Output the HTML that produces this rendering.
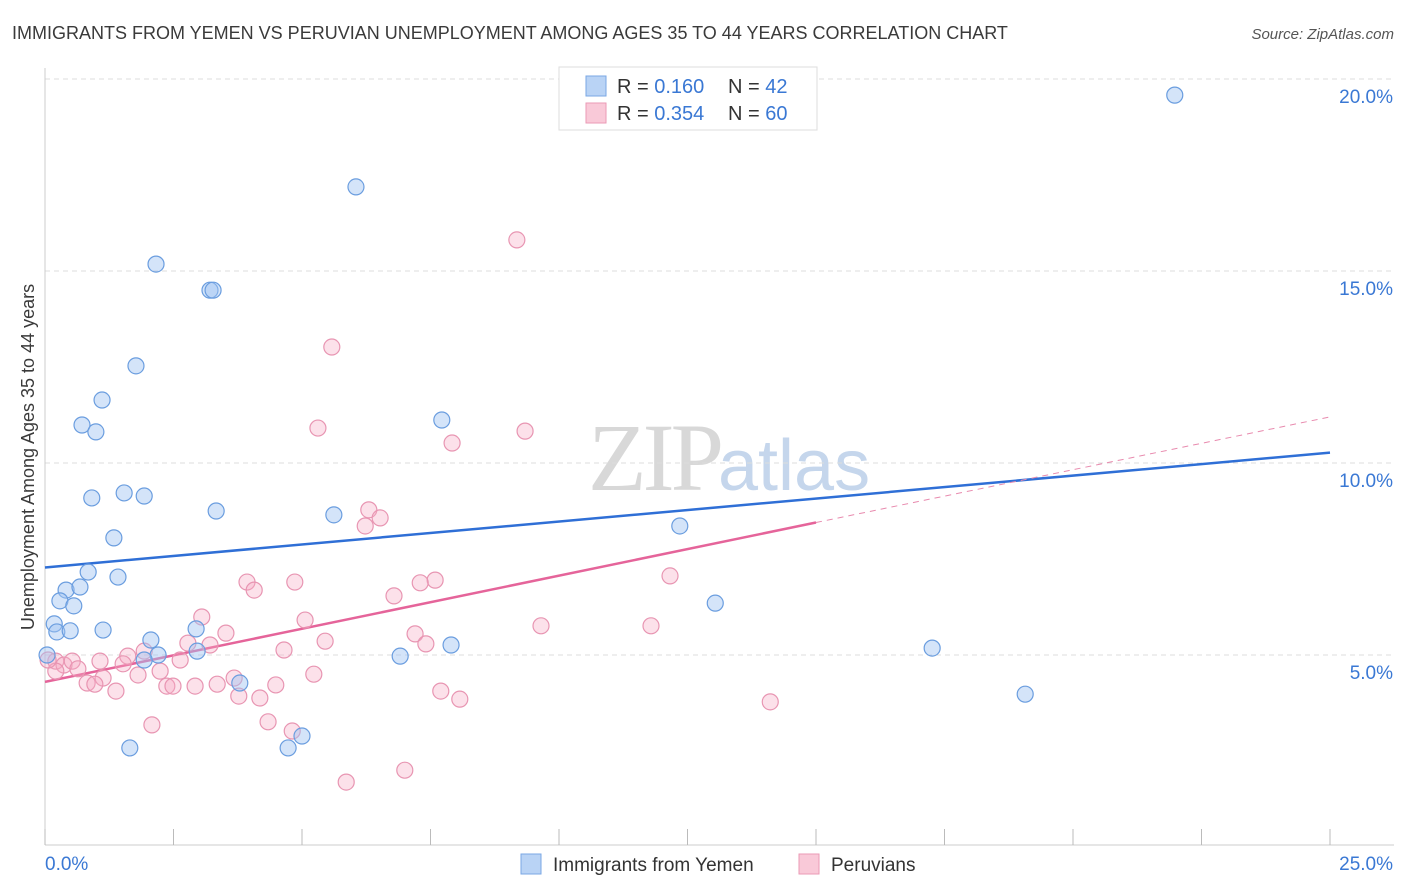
<!DOCTYPE html>
<html><head><meta charset="utf-8"><style>
body{margin:0;background:#fff;font-family:"Liberation Sans",sans-serif;}
svg{display:block}
</style></head><body>
<svg id="chart" width="1406" height="892" xmlns="http://www.w3.org/2000/svg">
<text x="12" y="39" font-size="18" fill="#3a3a3a">IMMIGRANTS FROM YEMEN VS PERUVIAN UNEMPLOYMENT AMONG AGES 35 TO 44 YEARS CORRELATION CHART</text>
<text x="1394" y="39" font-size="15" fill="#555" text-anchor="end" font-style="italic">Source: ZipAtlas.com</text>
<text x="720" y="490" font-size="96" text-anchor="end" fill="#d8d8d8" font-family="Liberation Serif" letter-spacing="-4">ZIP</text>
<text x="718" y="490" font-size="72" fill="#c5d6ec">atlas</text>
<text transform="translate(34,457) rotate(-90)" font-size="18" fill="#3a3a3a" text-anchor="middle">Unemployment Among Ages 35 to 44 years</text>
<g id="grid"></g><g id="axes"></g><g id="trends"></g><g id="pts"></g>
<g>
<rect x="559" y="67" width="258" height="63" fill="#fff" stroke="#ddd"/>
<rect x="586" y="76" width="20" height="20" fill="#b9d3f5" stroke="#7aa7e4"/>
<rect x="586" y="103" width="20" height="20" fill="#f9c9d8" stroke="#eb9ab6"/>
<text x="617" y="93" font-size="20" fill="#333">R = <tspan fill="#3a78d4">0.160</tspan></text>
<text x="728" y="93" font-size="20" fill="#333">N = <tspan fill="#3a78d4">42</tspan></text>
<text x="617" y="120" font-size="20" fill="#333">R = <tspan fill="#3a78d4">0.354</tspan></text>
<text x="728" y="120" font-size="20" fill="#333">N = <tspan fill="#3a78d4">60</tspan></text>
</g>
<g>
<rect x="521" y="854" width="20" height="20" fill="#b9d3f5" stroke="#7aa7e4"/>
<text x="553" y="871" font-size="19" fill="#333">Immigrants from Yemen</text>
<rect x="799" y="854" width="20" height="20" fill="#f9c9d8" stroke="#eb9ab6"/>
<text x="831" y="871" font-size="19" fill="#333">Peruvians</text>
</g>
</svg>
<script>
const yTicks=[5,10,15,20];
const yTickLabels=["5.0%","10.0%","15.0%","20.0%"];
const xTickLabels=["0.0%","25.0%"];
const blueX=[21.98,6.05,2.16,3.21,3.27,1.77,1.11,0.72,0.99,7.72,0.91,1.54,1.93,3.33,5.62,1.34,12.35,0.84,1.42,0.41,0.68,0.29,0.56,13.04,0.18,0.23,0.49,1.13,2.94,2.06,0.04,2.2,1.93,2.96,6.91,7.9,17.26,3.79,19.07,1.65,4.73,5.0];
const blueY=[19.58,17.19,15.18,14.5,14.5,12.53,11.64,10.99,10.81,11.12,9.09,9.22,9.14,8.75,8.65,8.05,8.36,7.16,7.03,6.69,6.77,6.41,6.28,6.35,5.81,5.6,5.63,5.65,5.68,5.39,5.0,5.0,4.87,5.1,4.97,5.26,5.18,4.27,3.98,2.58,2.58,2.89];
const pinkX=[9.18,5.58,5.31,9.34,7.92,6.3,6.52,6.23,12.16,3.93,4.86,7.59,7.3,4.07,6.79,5.06,3.05,9.65,11.79,3.52,7.2,2.78,3.21,5.45,7.41,4.65,1.93,1.61,1.07,1.52,2.63,0.21,0.37,0.53,0.64,2.24,1.81,1.13,5.23,3.68,0.82,0.97,2.37,2.49,2.92,3.35,4.49,1.38,3.77,4.18,7.7,8.07,14.11,4.34,2.08,4.81,5.86,7.0,0.21,0.06];
const pinkY=[15.81,13.02,10.91,10.83,10.52,8.78,8.57,8.36,7.06,6.9,6.9,6.95,6.88,6.69,6.54,5.91,5.99,5.76,5.76,5.57,5.55,5.31,5.26,5.36,5.29,5.13,5.1,4.97,4.84,4.77,4.87,4.84,4.74,4.84,4.64,4.58,4.48,4.4,4.5,4.4,4.27,4.24,4.19,4.19,4.19,4.24,4.22,4.06,3.93,3.88,4.06,3.85,3.78,3.26,3.18,3.02,1.69,2.0,4.58,4.87];
const blueTrend=[[0,7.28],[25,10.27]];
const pinkTrend=[[0,4.3],[15,8.45],[25,11.2]];
const NS="http://www.w3.org/2000/svg";
const sx=v=>45+v/25*1285, sy=v=>847-v/5*192;
function mk(tag,attrs,parent){const e=document.createElementNS(NS,tag);for(const k in attrs)e.setAttribute(k,attrs[k]);document.getElementById(parent).appendChild(e);return e;}
yTicks.forEach((t,i)=>{
 const l=mk('line',{x1:45,x2:1394,y1:sy(t),y2:sy(t),stroke:'#ddd','stroke-dasharray':'5,4'},'grid');
 
 
 const tx=mk('text',{x:1393,y:sy(t)+24,'font-size':19,fill:'#3a78d4','text-anchor':'end'},'axes');
 tx.textContent=yTickLabels[i];
 
 
});
const ax=mk('line',{x1:45,x2:1394,y1:845,y2:845,stroke:'#ccc'},'axes');


const ay=mk('line',{x1:45,x2:45,y1:68,y2:845,stroke:'#ccc'},'axes');


for(let i=0;i<=10;i++){
 const tk=mk('line',{x1:sx(i*2.5),x2:sx(i*2.5),y1:829,y2:845,stroke:'#bbb'},'axes');
 
 
}
const xl0=mk('text',{x:45,y:870,'font-size':19,fill:'#3a78d4'},'axes');xl0.textContent=xTickLabels[0];


const xl1=mk('text',{x:1393,y:870,'font-size':19,fill:'#3a78d4','text-anchor':'end'},'axes');xl1.textContent=xTickLabels[1];


function pts(X,Y,fill,stroke,name){X.forEach((x,i)=>{const c=mk('circle',{cx:sx(x),cy:sy(Y[i]),r:8,fill:fill,stroke:stroke,'stroke-width':1.2},'pts');
 
 });}
pts(pinkX,pinkY,'rgba(246,170,196,0.35)','#e895b2','point-peruvians');
pts(blueX,blueY,'rgba(160,196,242,0.45)','#6a9ddf','point-yemen');
const bl=mk('line',{x1:sx(blueTrend[0][0]),y1:sy(blueTrend[0][1]),x2:sx(blueTrend[1][0]),y2:sy(blueTrend[1][1]),stroke:'#2f6fd6','stroke-width':2.5},'trends');


const pl=mk('line',{x1:sx(pinkTrend[0][0]),y1:sy(pinkTrend[0][1]),x2:sx(pinkTrend[1][0]),y2:sy(pinkTrend[1][1]),stroke:'#e5649a','stroke-width':2.5},'trends');


const pd=mk('line',{x1:sx(pinkTrend[1][0]),y1:sy(pinkTrend[1][1]),x2:sx(pinkTrend[2][0]),y2:sy(pinkTrend[2][1]),stroke:'#e88aae','stroke-width':1,'stroke-dasharray':'6,5'},'trends');


</script>
</body></html>
